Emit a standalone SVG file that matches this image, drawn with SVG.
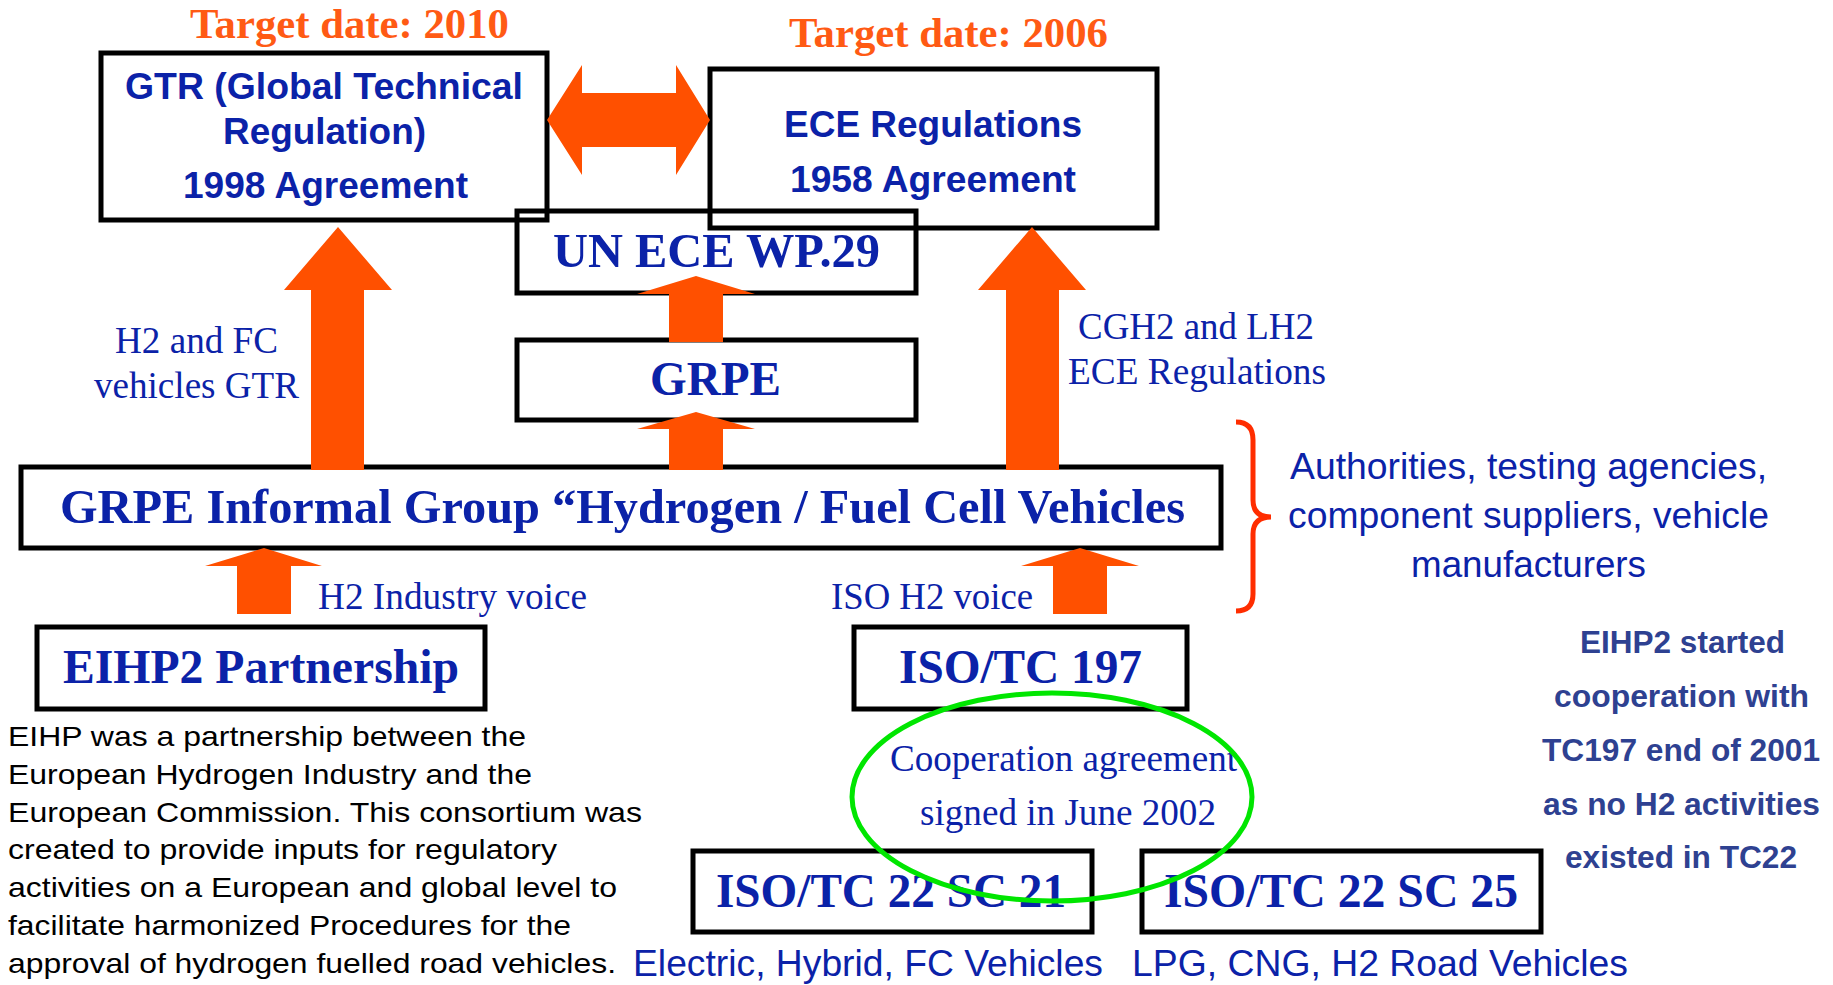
<svg xmlns="http://www.w3.org/2000/svg" width="1833" height="985" viewBox="0 0 1833 985">
<style>
.box{fill:none;stroke:#000;stroke-width:5}
.arr{fill:#FF5000;stroke:none}
.tb{font-family:"Liberation Serif","Times New Roman",serif;font-weight:bold;fill:#0B22A8}
.tr{font-family:"Liberation Serif","Times New Roman",serif;fill:#0B22A8}
.ab{font-family:"Liberation Sans",Arial,sans-serif;font-weight:bold;fill:#0B22A8}
.ar{font-family:"Liberation Sans",Arial,sans-serif;fill:#0B22A8}
.blk{font-family:"Liberation Sans",Arial,sans-serif;fill:#000}
.tgt{font-family:"Liberation Serif","Times New Roman",serif;font-weight:bold;fill:#FF5A14;font-size:42px}
.note{font-family:"Liberation Sans",Arial,sans-serif;font-weight:bold;fill:#2E4191;font-size:31px}
</style>
<rect width="1833" height="985" fill="#fff"/>

<text class="tgt" x="190" y="38" textLength="319" lengthAdjust="spacingAndGlyphs">Target date: 2010</text>
<text class="tgt" x="789" y="47" textLength="319" lengthAdjust="spacingAndGlyphs">Target date: 2006</text>

<g id="gtr">
<rect class="box" x="101" y="53" width="446" height="167"/>
<text class="ab" font-size="36" x="125" y="99" textLength="398" lengthAdjust="spacingAndGlyphs">GTR (Global Technical</text>
<text class="ab" font-size="36" x="223" y="144" textLength="203" lengthAdjust="spacingAndGlyphs">Regulation)</text>
<text class="ab" font-size="36" x="183" y="198" textLength="285" lengthAdjust="spacingAndGlyphs">1998 Agreement</text>
</g>

<g id="ece">
<rect class="box" x="710" y="69" width="447" height="159"/>
<text class="ab" font-size="36" x="784" y="137" textLength="298" lengthAdjust="spacingAndGlyphs">ECE Regulations</text>
<text class="ab" font-size="36" x="790" y="192" textLength="286" lengthAdjust="spacingAndGlyphs">1958 Agreement</text>
</g>

<g id="wp29">
<rect class="box" x="517" y="211" width="399" height="82"/>
<text class="tb" font-size="48" x="553" y="267" textLength="327" lengthAdjust="spacingAndGlyphs">UN ECE WP.29</text>
</g>

<g id="grpe">
<rect class="box" x="517" y="340" width="399" height="80"/>
<text class="tb" font-size="48" x="650" y="395" textLength="131" lengthAdjust="spacingAndGlyphs">GRPE</text>
</g>

<g id="informal">
<rect class="box" x="21" y="467" width="1200" height="81"/>
<text class="tb" font-size="48" x="60" y="523" textLength="1125" lengthAdjust="spacingAndGlyphs">GRPE Informal Group “Hydrogen / Fuel Cell Vehicles</text>
</g>

<g id="eihp2">
<rect class="box" x="37" y="627" width="448" height="82"/>
<text class="tb" font-size="48" x="63" y="683" textLength="396" lengthAdjust="spacingAndGlyphs">EIHP2 Partnership</text>
</g>

<g id="tc197">
<rect class="box" x="854" y="627" width="333" height="82"/>
<text class="tb" font-size="48" x="899" y="683" textLength="243" lengthAdjust="spacingAndGlyphs">ISO/TC 197</text>
</g>

<g id="sc21">
<rect class="box" x="693" y="851" width="399" height="81"/>
<text class="tb" font-size="48" x="716" y="907" textLength="350" lengthAdjust="spacingAndGlyphs">ISO/TC 22 SC 21</text>
</g>

<g id="sc25">
<rect class="box" x="1142" y="851" width="399" height="81"/>
<text class="tb" font-size="48" x="1164" y="907" textLength="354" lengthAdjust="spacingAndGlyphs">ISO/TC 22 SC 25</text>
</g>

<g id="connectors">
<path class="arr" d="M547,120 L582,65 L582,93 L676,93 L676,65 L710,120 L676,175 L676,147 L582,147 L582,175 Z"/>
<path class="arr" d="M338,227 L392,290 L364,290 L364,470 L311,470 L311,290 L284,290 Z"/>
<path class="arr" d="M1032,227 L1086,290 L1059,290 L1059,470 L1006,470 L1006,290 L978,290 Z"/>
<path class="arr" d="M696,276 L755,294 L723,294 L723,342 L669,342 L669,294 L637,294 Z"/>
<path class="arr" d="M696,412 L755,429 L723,429 L723,470 L669,470 L669,429 L637,429 Z"/>
<path class="arr" d="M264,548 L322,566 L291,566 L291,614 L237,614 L237,566 L205,566 Z"/>
<path class="arr" d="M1080,548 L1139,566 L1107,566 L1107,614 L1053,614 L1053,566 L1021,566 Z"/>
</g>

<g id="labels">
<text class="tr" font-size="37" x="115" y="353" textLength="163" lengthAdjust="spacingAndGlyphs">H2 and FC</text>
<text class="tr" font-size="37" x="94" y="398" textLength="205" lengthAdjust="spacingAndGlyphs">vehicles GTR</text>
<text class="tr" font-size="37" x="1078" y="339" textLength="236" lengthAdjust="spacingAndGlyphs">CGH2 and LH2</text>
<text class="tr" font-size="37" x="1068" y="384" textLength="258" lengthAdjust="spacingAndGlyphs">ECE Regulations</text>
<text class="tr" font-size="37" x="318" y="609" textLength="269" lengthAdjust="spacingAndGlyphs">H2 Industry voice</text>
<text class="tr" font-size="37" x="831" y="609" textLength="202" lengthAdjust="spacingAndGlyphs">ISO H2 voice</text>
</g>

<g id="stakeholders">
<path d="M1236,422 Q1253,422 1253,440 L1253,500 Q1253,517 1271,517 Q1253,517 1253,534 L1253,594 Q1253,611 1236,611" fill="none" stroke="#FF2D00" stroke-width="5"/>
<text class="ar" font-size="36" x="1290" y="479" textLength="477" lengthAdjust="spacingAndGlyphs">Authorities, testing agencies,</text>
<text class="ar" font-size="36" x="1288" y="528" textLength="481" lengthAdjust="spacingAndGlyphs">component suppliers, vehicle</text>
<text class="ar" font-size="36" x="1411" y="577" textLength="235" lengthAdjust="spacingAndGlyphs">manufacturers</text>
</g>

<g id="note">
<text class="note" x="1580" y="653" textLength="205" lengthAdjust="spacingAndGlyphs">EIHP2 started</text>
<text class="note" x="1554" y="707" textLength="255" lengthAdjust="spacingAndGlyphs">cooperation with</text>
<text class="note" x="1542" y="761" textLength="278" lengthAdjust="spacingAndGlyphs">TC197 end of 2001</text>
<text class="note" x="1543" y="815" textLength="277" lengthAdjust="spacingAndGlyphs">as no H2 activities</text>
<text class="note" x="1565" y="868" textLength="232" lengthAdjust="spacingAndGlyphs">existed in TC22</text>
</g>

<g id="eihp-text">
<text class="blk" font-size="28" x="8" y="746" textLength="518" lengthAdjust="spacingAndGlyphs">EIHP was a partnership between the</text>
<text class="blk" font-size="28" x="8" y="784" textLength="524" lengthAdjust="spacingAndGlyphs">European Hydrogen Industry and the</text>
<text class="blk" font-size="28" x="8" y="822" textLength="634" lengthAdjust="spacingAndGlyphs">European Commission. This consortium was</text>
<text class="blk" font-size="28" x="8" y="859" textLength="549" lengthAdjust="spacingAndGlyphs">created to provide inputs for regulatory</text>
<text class="blk" font-size="28" x="8" y="897" textLength="609" lengthAdjust="spacingAndGlyphs">activities on a European and global level to</text>
<text class="blk" font-size="28" x="8" y="935" textLength="563" lengthAdjust="spacingAndGlyphs">facilitate harmonized Procedures for the</text>
<text class="blk" font-size="28" x="8" y="973" textLength="608" lengthAdjust="spacingAndGlyphs">approval of hydrogen fuelled road vehicles.</text>
</g>

<g id="scope-labels">
<text class="ar" font-size="37" x="633" y="976" textLength="470" lengthAdjust="spacingAndGlyphs">Electric, Hybrid, FC Vehicles</text>
<text class="ar" font-size="37" x="1132" y="976" textLength="496" lengthAdjust="spacingAndGlyphs">LPG, CNG, H2 Road Vehicles</text>
</g>

<g id="cooperation">
<text class="tr" font-size="37" x="890" y="771" textLength="347" lengthAdjust="spacingAndGlyphs">Cooperation agreement</text>
<text class="tr" font-size="37" x="920" y="825" textLength="296" lengthAdjust="spacingAndGlyphs">signed in June 2002</text>
<ellipse cx="1052" cy="797" rx="200" ry="104" fill="none" stroke="#00E600" stroke-width="5"/>
</g>
</svg>
